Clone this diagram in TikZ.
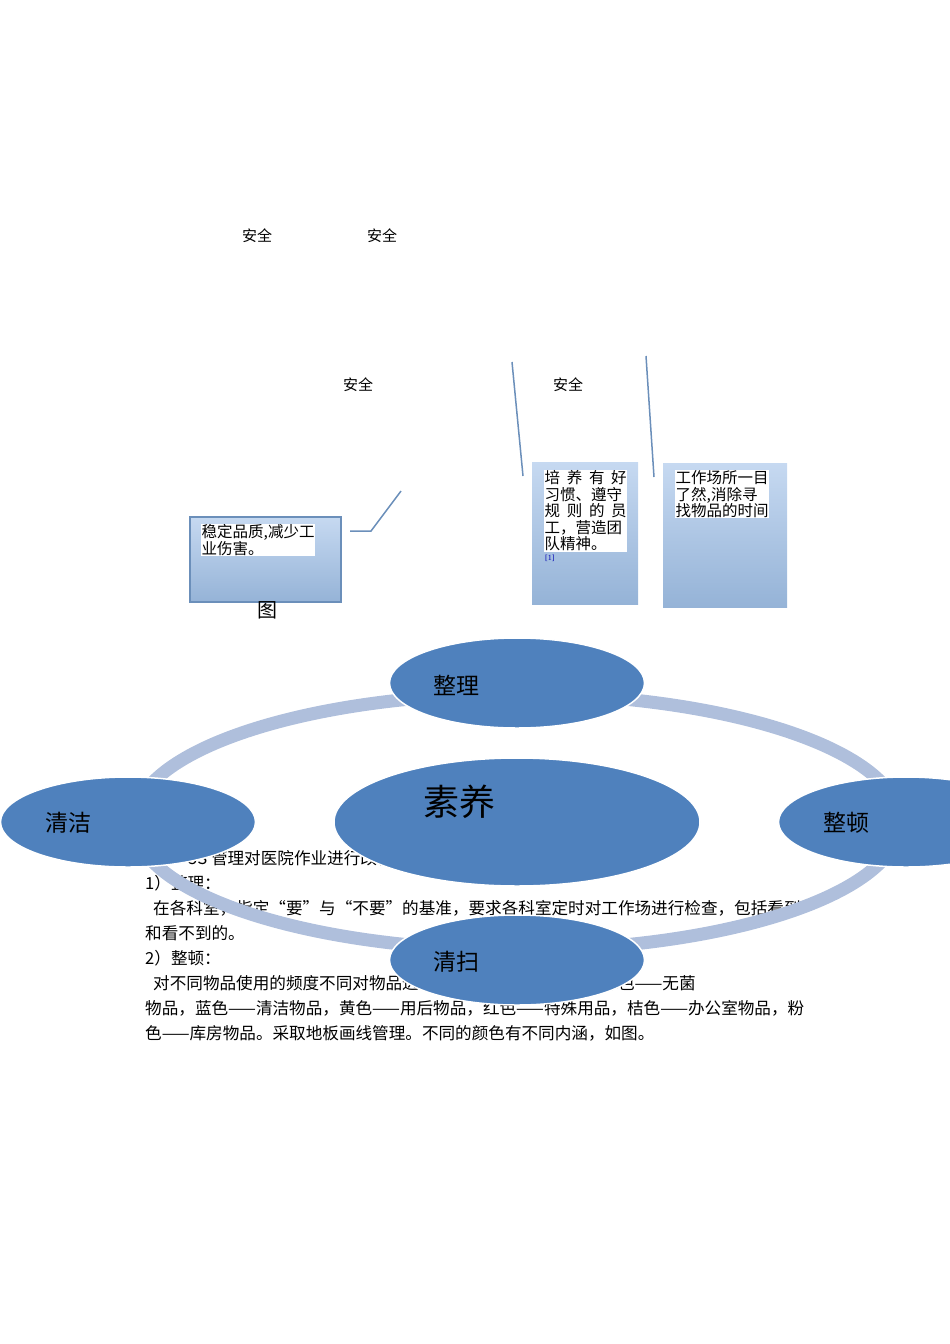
\documentclass[tikz,border=0pt]{standalone}
\usepackage{fontspec}
\usetikzlibrary{shapes.geometric}
\setmainfont{Liberation Serif}
\newfontfamily\cjk{Noto Sans CJK SC}
\newcommand{\sline}[1]{\makebox[82pt][s]{#1}}
\begin{document}
\begin{tikzpicture}[x=1pt,y=-1pt,
  lbl/.style={font=\cjk\fontsize{15}{15}\selectfont,inner sep=0pt},
  body/.style={font=\cjk\fontsize{16.6}{16.6}\selectfont,anchor=west,inner sep=0pt},
  box/.style={top color=boxtop,bottom color=boxbot},
  hl/.style={fill=white,inner sep=0.5pt,anchor=north west,align=left,font=\cjk\fontsize{15.5}{16.5}\selectfont},
  conn/.style={draw=linec,line width=1.5pt},
  oval/.style={ellipse,fill=ovalc,draw=white,line width=1.5pt,font=\cjk},
]
\definecolor{boxtop}{HTML}{C6D9F1}
\definecolor{boxbot}{HTML}{95B3D7}
\definecolor{linec}{HTML}{6B8FBA}
\definecolor{ringc}{HTML}{AFBFDC}
\definecolor{ovalc}{HTML}{4F81BD}
\useasboundingbox (0,0) rectangle (950,1344);
\clip (0,0) rectangle (950,1344);
% labels
\node[lbl] (s1) at (257,236) {安全};
\node[lbl] (s2) at (382,236) {安全};
\node[lbl] (s3) at (358,385) {安全};
\node[lbl] (s4) at (568,385) {安全};
% boxes
\fill[box,draw=linec,line width=1.5pt] (190,517) rectangle (341,602);
\coordinate (b1) at (350,531);
\fill[box] (532,462) rectangle (638,604);
\fill[box] (663,463) rectangle (787,607);
\node[hl] (t1) at (201,524) {稳定品质,减少工\\业伤害。};
\node[hl] (t2) at (544,470) {\sline{培\hfil 养\hfil 有\hfil 好}\\\sline{习惯、遵守}\\\sline{规\hfil 则\hfil 的\hfil 员}\\\sline{工，营造团}\\队精神。};
\node[anchor=north west,inner sep=0pt,text=blue!70!black,font=\fontsize{8}{8}\selectfont] (ref) at (545,555) {[1]};
\node[hl] (t3) at (675,470) {工作场所一目\\了然,消除寻\\找物品的时间};
% connectors
\coordinate (c1a) at (371,531); \coordinate (c1b) at (401,491);
\draw[conn] (b1) -- (c1a) -- (c1b);
\coordinate (c2a) at (512,362); \coordinate (c2b) at (523,476);
\draw[conn] (c2a) -- (c2b);
\coordinate (c3a) at (646,356); \coordinate (c3b) at (654,477);
\draw[conn] (c3a) -- (c3b);
\node[font=\cjk\fontsize{20}{20}\selectfont,inner sep=0pt] (tu) at (267,610) {图};
% body text
\node[body] (l0) at (188,858) {5S 管理对医院作业进行改善：};
\node[body] (l1) at (145,883) {1）整理：};
\node[body] (l2) at (145,908) {\hspace{8pt}在各科室，指定“要”与“不要”的基准，要求各科室定时对工作场进行检查，包括看到};
\node[body] (l3) at (145,933) {和看不到的。};
\node[body] (l4) at (145,958) {2）整顿：};
\node[body] (l5) at (145,983) {\hspace{8pt}对不同物品使用的频度不同对物品进行分类，采取颜色管理：绿色——无菌};
\node[body] (l6) at (145,1008) {物品，蓝色——清洁物品，黄色——用后物品，红色——特殊用品，桔色——办公室物品，粉};
\node[body] (l7) at (145,1033) {色——库房物品。采取地板画线管理。不同的颜色有不同内涵，如图。};
% ring
\draw[ringc,line width=13pt] (517,822) ellipse [x radius=383, y radius=128];
% ovals
\node[oval,minimum width=255pt,minimum height=90pt] (zl) at (517,683) {};
\node[font=\cjk\fontsize{23}{23}\selectfont] at (456,685) {整理};
\node[oval,minimum width=366pt,minimum height=128pt] (sy) at (517,822) {};
\node[font=\cjk\fontsize{36}{36}\selectfont] at (459,802) {素养};
\node[oval,minimum width=255pt,minimum height=90pt] (qj) at (128,822) {};
\node[font=\cjk\fontsize{23}{23}\selectfont] at (68,823) {清洁};
\node[oval,minimum width=255pt,minimum height=90pt] (zd) at (906,822) {};
\node[font=\cjk\fontsize{23}{23}\selectfont] at (846,823) {整顿};
\node[oval,minimum width=255pt,minimum height=90pt] (qs) at (517,960) {};
\node[font=\cjk\fontsize{23}{23}\selectfont] at (456,962) {清扫};
\end{tikzpicture}
\end{document}
